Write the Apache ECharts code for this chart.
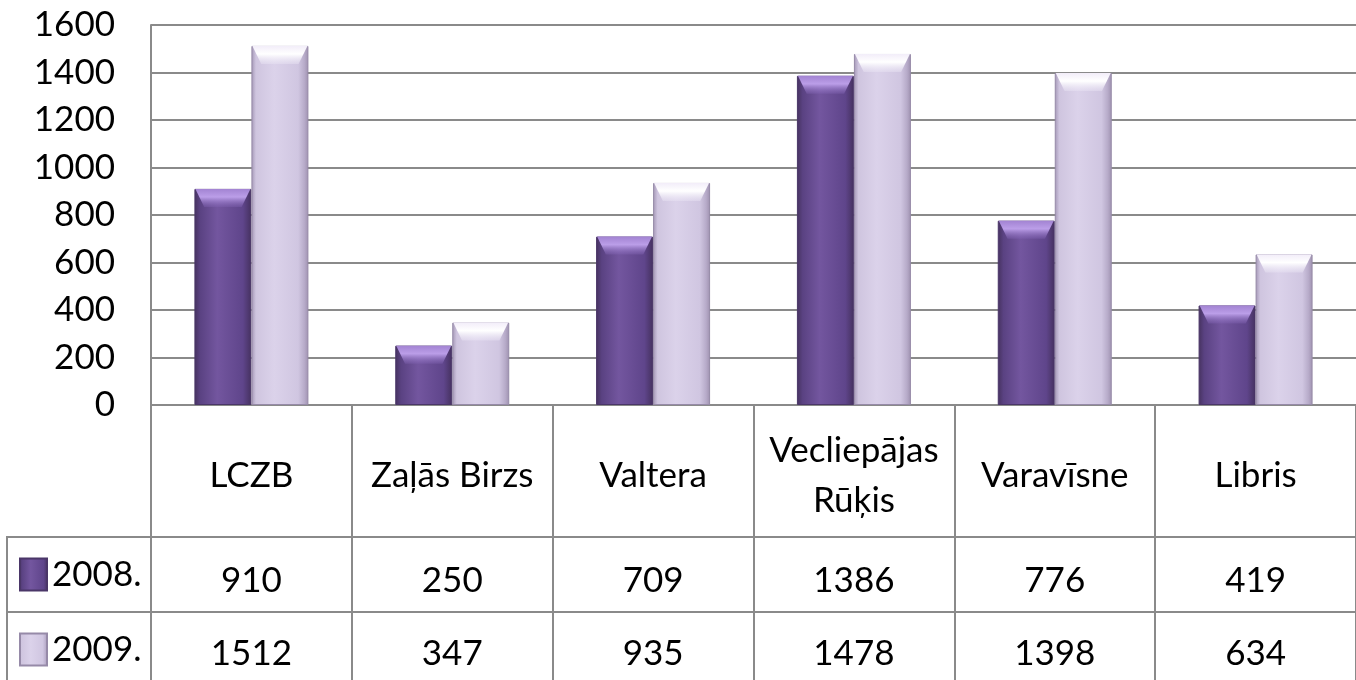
<!DOCTYPE html>
<html>
<head>
<meta charset="utf-8">
<script src="https://cdn.jsdelivr.net/npm/echarts@6/dist/echarts.min.js"></script>
<style>
  html, body { margin: 0; padding: 0; background: #fff; }
  #chart { width: 1356px; height: 680px; }
</style>
</head>
<body>
<div id="chart"></div>
<script>
// data
var categories = ['LCZB', 'Zaļās Birzs', 'Valtera', 'Vecliepājas Rūķis', 'Varavīsne', 'Libris'];
var seriesNames = ['2008.', '2009.'];
var values2008 = [910, 250, 709, 1386, 776, 419];
var values2009 = [1512, 347, 935, 1478, 1398, 634];
var yTicks = [0, 1600, 200]; // min, max, step

var LINE = '#8a8a8a';
var FONT = 'Lato';
var FS = 35;

function hGrad(stops) {
    return new echarts.graphic.LinearGradient(0, 0, 1, 0, stops);
}
function vGrad(stops) {
    return new echarts.graphic.LinearGradient(0, 0, 0, 1, stops);
}

var darkFill = hGrad([
    {offset: 0, color: '#46325f'},
    {offset: 0.1, color: '#5a4282'},
    {offset: 0.4, color: '#73569f'},
    {offset: 0.85, color: '#5f458b'},
    {offset: 1, color: '#45315f'}
]);
var lightFill = hGrad([
    {offset: 0, color: '#a396b5'},
    {offset: 0.08, color: '#cfc5df'},
    {offset: 0.4, color: '#dbd2ea'},
    {offset: 0.82, color: '#d0c6e1'},
    {offset: 0.93, color: '#b7abc9'},
    {offset: 1, color: '#9e91af'}
]);
var darkTop = vGrad([
    {offset: 0, color: '#a283d2'},
    {offset: 0.45, color: '#bb9ee8'},
    {offset: 1, color: 'rgba(130,100,180,0.35)'}
]);
var lightTop = vGrad([
    {offset: 0, color: '#f2edf9'},
    {offset: 0.45, color: '#ffffff'},
    {offset: 1, color: 'rgba(235,230,245,0.4)'}
]);
var bevel = 'path://M0,0 L100,0 L84,20 L16,20 Z';

var chart = echarts.init(document.getElementById('chart'));

function valueAxis(vals, offset, tickLen, margin) {
    return {
        type: 'category',
        position: 'bottom',
        offset: offset,
        data: vals.map(String),
        axisLine: {show: true, lineStyle: {color: LINE, width: 2}},
        axisTick: {show: true, length: tickLen, lineStyle: {color: LINE, width: 2}},
        axisLabel: {
            interval: 0, margin: margin, verticalAlign: 'middle',
            color: '#000', fontSize: FS, fontFamily: FONT
        },
        splitLine: {show: false}
    };
}

chart.setOption({
    animation: false,
    textStyle: {fontFamily: FONT},
    grid: {left: 151, right: 0, top: 25, bottom: 275, containLabel: false},
    legend: {
        data: seriesNames,
        orient: 'vertical',
        left: 14,
        top: 552,
        itemWidth: 27,
        itemHeight: 32,
        itemGap: 40,
        icon: 'rect',
        selectedMode: false,
        textStyle: {color: '#000', fontSize: FS, fontFamily: FONT, lineHeight: 32}
    },
    xAxis: [
        {
            type: 'category',
            data: categories,
            axisLine: {show: true, lineStyle: {color: LINE, width: 2}},
            axisTick: {show: true, length: 132, lineStyle: {color: LINE, width: 2}},
            axisLabel: {
                interval: 0, margin: 71, verticalAlign: 'middle', align: 'center',
                lineHeight: 50,
                formatter: function (v) { return v.length > 14 ? v.replace(' ', '\n') : v; },
                color: '#000', fontSize: FS, fontFamily: FONT
            }
        },
        valueAxis(values2008, 132, 75, 44),
        valueAxis(values2009, 207, 75, 42)
    ],
    yAxis: {
        type: 'value',
        min: yTicks[0],
        max: yTicks[1],
        interval: yTicks[2],
        axisLine: {show: true, lineStyle: {color: LINE, width: 2}},
        axisTick: {show: false},
        axisLabel: {
            margin: 36, color: '#000', fontSize: FS, fontFamily: FONT,
            formatter: function (v) { return String(v); }
        },
        splitLine: {lineStyle: {color: LINE, width: 2}}
    },
    series: [
        {
            name: seriesNames[0], type: 'bar', data: values2008,
            barWidth: 57, barGap: '0%',
            itemStyle: {color: darkFill, borderColor: '#4a3668', borderWidth: 1}
        },
        {
            name: seriesNames[1], type: 'bar', data: values2009,
            barWidth: 57, barGap: '0%',
            itemStyle: {color: lightFill, borderColor: '#968aa8', borderWidth: 1}
        },
        {
            name: 'top2008', type: 'pictorialBar', data: values2008,
            barWidth: 57, barGap: '0%', z: 5,
            symbol: bevel, symbolSize: [55, 18], symbolPosition: 'end',
            itemStyle: {color: darkTop}, silent: true
        },
        {
            name: 'top2009', type: 'pictorialBar', data: values2009,
            barWidth: 57, barGap: '0%', z: 5,
            symbol: bevel, symbolSize: [55, 18], symbolPosition: 'end',
            itemStyle: {color: lightTop}, silent: true
        }
    ],
    graphic: [
        {type: 'line', shape: {x1: 7, y1: 537, x2: 151, y2: 537}, style: {stroke: LINE, lineWidth: 2}},
        {type: 'line', shape: {x1: 7, y1: 612, x2: 151, y2: 612}, style: {stroke: LINE, lineWidth: 2}},
        {type: 'line', shape: {x1: 7, y1: 536, x2: 7, y2: 680}, style: {stroke: LINE, lineWidth: 2}}
    ]
});
</script>
</body>
</html>
